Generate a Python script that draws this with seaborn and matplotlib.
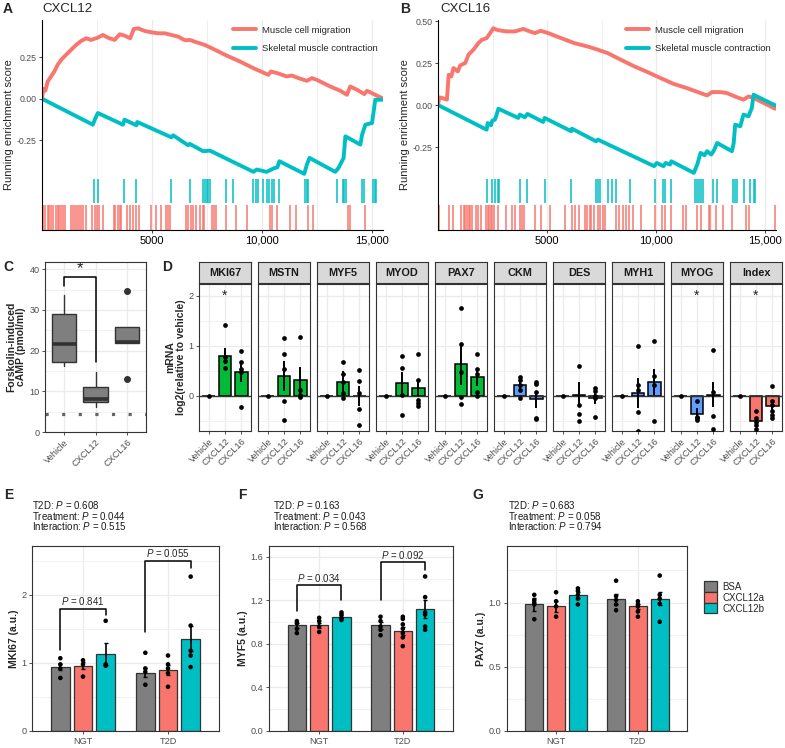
import matplotlib
matplotlib.use("Agg")
import matplotlib.pyplot as plt
from matplotlib.patches import Patch
import numpy as np
import pandas as pd
import seaborn as sns

# ---------------- data ----------------
# A: CXCL12 running enrichment score (gene rank, score)
a_mig_rank = [0, 60, 150, 260, 410, 560, 710, 870, 1090, 1320, 1550, 1780, 2010, 2230, 2540, 2770, 2990, 3300,
              3530, 3750, 4010, 4170, 4360, 4670, 4970, 5270, 5580, 5880, 6190, 6490, 6720, 7020, 7400, 7780,
              8390, 9000, 9610, 10290, 10400, 10700, 11130, 11350, 11660, 12040, 12270, 12490, 13100, 13560,
              13860, 14010, 14320, 14650, 14770, 15080, 15460]
a_mig_es = [0, 0.06, 0.048, 0.104, 0.134, 0.164, 0.204, 0.234, 0.264, 0.294, 0.324, 0.348, 0.364, 0.354, 0.368,
            0.384, 0.368, 0.354, 0.388, 0.38, 0.364, 0.42, 0.424, 0.408, 0.40, 0.394, 0.394, 0.384, 0.374, 0.352,
            0.354, 0.34, 0.324, 0.30, 0.26, 0.224, 0.184, 0.144, 0.164, 0.154, 0.134, 0.14, 0.124, 0.108, 0.124,
            0.114, 0.074, 0.048, 0.024, 0.074, 0.054, 0.028, 0.048, 0.028, 0.004]
a_con_rank = [0, 2310, 2430, 2540, 3680, 3750, 4290, 4330, 5880, 5960, 6640, 6720, 7330, 7630, 9610, 9760, 10210,
              10520, 10700, 10790, 11920, 12040, 12160, 13330, 13480, 13710, 13790, 14470, 14550, 14700, 15000,
              15150, 15460]
a_con_es = [0, -0.156, -0.116, -0.086, -0.156, -0.126, -0.16, -0.14, -0.232, -0.22, -0.28, -0.272, -0.316, -0.312,
            -0.44, -0.426, -0.44, -0.42, -0.412, -0.376, -0.452, -0.396, -0.356, -0.44, -0.416, -0.356, -0.226,
            -0.276, -0.216, -0.156, -0.146, -0.006, -0.006]
a_con_hits = [2360, 2540, 3710, 4290, 5850, 6720, 7330, 7400, 7480, 7550, 7630, 8350, 8660, 9610, 9730, 9830,
              10030, 10210, 10340, 10440, 10560, 10750, 11960, 12040, 12110, 13410, 13680, 13740, 13830, 14550,
              14620, 15050, 15120, 15200]
a_mig_hits = [60, 150, 260, 330, 410, 520, 640, 710, 790, 870, 970, 1060, 1320, 1400, 1510, 1580, 1700, 1780,
              1850, 2010, 2280, 2390, 2490, 2610, 2770, 3250, 3340, 3450, 3530, 3600, 3860, 4010, 4130, 4290, 4410,
              4940, 5170, 5430, 5650, 5730, 5810, 6540, 6640, 6790, 6870, 6990, 7170, 7300, 7370, 7710, 7810, 7930,
              8360, 8820, 9300, 10370, 10440, 10700, 11280, 11550, 12110, 12340, 13890, 13980, 14700]

# B: CXCL16
b_mig_rank = [0, 60, 180, 410, 490, 610, 710, 910, 1020, 1250, 1400, 1630, 1850, 2010, 2230, 2390, 2540, 2690,
              2920, 3150, 3530, 3910, 4210, 4440, 4710, 5050, 5650, 6260, 6870, 7330, 7780, 8390, 9000, 9610,
              10210, 10820, 11430, 12040, 12340, 12570, 12950, 13250, 13710, 14010, 14240, 14470, 15460]
b_mig_es = [0, 0.046, 0.042, 0.032, 0.18, 0.17, 0.22, 0.20, 0.236, 0.25, 0.30, 0.33, 0.368, 0.388, 0.398, 0.428,
            0.457, 0.448, 0.442, 0.438, 0.438, 0.453, 0.438, 0.428, 0.442, 0.428, 0.398, 0.368, 0.348, 0.329,
            0.309, 0.269, 0.23, 0.196, 0.16, 0.125, 0.10, 0.071, 0.057, 0.077, 0.077, 0.071, 0.046, 0.032, 0.051,
            0.042, -0.022]
b_con_rank = [0, 2230, 2280, 2430, 2490, 2610, 2690, 2770, 3680, 3750, 3980, 4100, 4820, 4890, 6110, 6140, 7250,
              7330, 9910, 10030, 10340, 10440, 10640, 10700, 11730, 11890, 12040, 12220, 12340, 12530, 12650,
              12800, 13480, 13560, 13630, 13860, 14010, 14240, 14390, 14470, 15460]
b_con_es = [0, -0.147, -0.107, -0.121, -0.093, -0.087, -0.057, -0.022, -0.077, -0.057, -0.073, -0.053, -0.101,
            -0.077, -0.156, -0.141, -0.216, -0.206, -0.364, -0.345, -0.364, -0.345, -0.354, -0.335, -0.404,
            -0.354, -0.285, -0.299, -0.275, -0.295, -0.271, -0.226, -0.275, -0.226, -0.117, -0.127, -0.057,
            -0.067, -0.018, 0.061, -0.002]
b_con_hits = [2230, 2490, 2610, 2740, 2800, 3750, 4100, 4890, 6080, 7250, 7330, 7450, 7780, 7980, 8160, 8820,
              9940, 10340, 10410, 10700, 11770, 11860, 11960, 12040, 12160, 12620, 12800, 13530, 13630, 13710,
              14050, 14290, 14470, 14550]
b_mig_hits = [60, 490, 710, 1060, 1170, 1250, 1320, 1400, 1470, 1550, 1730, 1850, 1980, 2190, 2270, 2340, 2420,
              2490, 2570, 2770, 3100, 3410, 3530, 3750, 3860, 3950, 4440, 4710, 5120, 5810, 6140, 6290, 6450, 6720,
              6840, 6950, 7020, 7140, 7330, 7430, 7550, 7660, 8160, 8310, 8470, 8620, 8770, 8920, 9330, 9940,
              10290, 10400, 10700, 11250, 11350, 11890, 12040, 12420, 12490, 12770, 13070, 13480, 14140, 14240,
              15460]

# C: forskolin-induced cAMP (box summary)
c_groups = ['Vehicle', 'CXCL12', 'CXCL16']
c_q1 = [17.2, 7.4, 21.9]
c_med = [21.6, 8.0, 22.2]
c_q3 = [29.0, 11.1, 25.8]
c_lo = [16.2, 6.2, 21.9]
c_hi = [33.7, 14.8, 25.8]
c_out = [[], [], [34.6, 13.0]]
c_basal = 4.4

# D: mRNA log2 fold change vs vehicle
d_genes = ['MKI67', 'MSTN', 'MYF5', 'MYOD', 'PAX7', 'CKM', 'DES', 'MYH1', 'MYOG', 'Index']
d_kind = ['prog', 'prog', 'prog', 'prog', 'prog', 'diff', 'diff', 'diff', 'diff', 'index']
d_cats = ['Vehicle', 'CXCL12', 'CXCL16']
d_mean12 = [0.80, 0.40, 0.28, 0.26, 0.63, 0.21, 0.02, 0.06, -0.37, -0.51]
d_sem12 = [0.16, 0.30, 0.21, 0.22, 0.41, 0.13, 0.25, 0.30, 0.12, 0.09]
d_mean16 = [0.48, 0.31, 0.00, 0.15, 0.37, -0.07, -0.04, 0.27, 0.02, -0.20]
d_sem16 = [0.20, 0.27, 0.20, 0.15, 0.17, 0.17, 0.12, 0.26, 0.25, 0.12]
d_pts12 = [[1.41, 0.78, 0.69, 0.55], [1.15, 0.84, 0.54, -0.10, -0.49], [0.68, 0.44, 0.27, 0.05, -0.05],
           [0.79, 0.56, 0.01, -0.39], [1.76, 1.03, 0.47, -0.02, -0.17], [0.38, 0.31, 0.21, 0.11, -0.05],
           [0.59, -0.19, -0.37, -0.51], [1.00, 0.21, 0.11, -0.33, -0.70], [-0.10, -0.42, -0.45, -0.49],
           [-0.30, -0.45, -0.52, -0.59, -0.67]]
d_pts16 = [[0.89, 0.68, 0.53, 0.47, -0.22], [1.18, 0.11, 0.01, -0.02], [0.51, 0.30, 0.05, -0.26, -0.58],
           [0.83, 0.32, -0.09, -0.15, -0.20], [0.83, 0.54, 0.43, 0.08, 0.00], [0.28, 0.23, 0.08, -0.44, -0.47],
           [0.16, 0.09, -0.01, -0.05, -0.43], [1.10, 0.40, 0.21, -0.50], [0.92, 0.08, -0.41, -0.67],
           [0.19, -0.10, -0.19, -0.31, -0.38, -0.45]]
d_star = ['MKI67', 'MYOG', 'Index']

# E-G: NGT / T2D myotubes
groups = ['NGT', 'T2D']
treatments = ['BSA', 'CXCL12a', 'CXCL12b']

e_mean = [[0.94, 0.96, 1.13], [0.86, 0.90, 1.36]]
e_sem = [[0.05, 0.05, 0.16], [0.07, 0.07, 0.19]]
e_pts = [[[1.07, 0.98, 0.92, 0.78], [1.04, 0.98, 0.80], [1.62, 0.98, 0.96]],
         [[1.15, 0.92, 0.87, 0.68], [1.11, 0.98, 0.92, 0.85, 0.65], [2.27, 1.55, 1.18, 1.11, 0.94]]]
e_stats = ['0.608', '0.044', '0.515']
e_pairs = [('0.841', 1.19, 1.80, 1.71), ('0.055', 1.45, 2.50, 2.39)]

f_mean = [[0.97, 0.97, 1.05], [0.97, 0.92, 1.12]]
f_sem = [[0.02, 0.02, 0.015], [0.03, 0.04, 0.08]]
f_pts = [[[1.01, 0.99, 0.94, 0.90], [1.04, 1.01, 0.96, 0.91], [1.09, 1.07, 1.04, 1.02]],
         [[1.05, 1.01, 0.96, 0.93, 0.88], [1.05, 1.03, 0.98, 0.94, 0.90, 0.86, 0.78],
          [1.42, 1.23, 1.09, 1.07, 0.96, 0.93]]]
f_stats = ['0.163', '0.043', '0.568']
f_pairs = [('0.034', 1.10, 1.34, 1.20), ('0.092', 1.20, 1.55, 1.48)]

g_mean = [[0.985, 0.97, 1.06], [1.03, 0.97, 1.03]]
g_sem = [[0.05, 0.04, 0.025], [0.04, 0.02, 0.05]]
g_pts = [[[1.06, 1.02, 1.0, 0.985, 0.87], [1.08, 1.01, 0.97, 0.89], [1.11, 1.09, 1.06, 1.03, 0.985]],
         [[1.17, 1.05, 1.02, 0.985, 0.94], [1.01, 0.985, 0.97, 0.93, 0.89], [1.21, 1.06, 1.03, 0.99, 0.85]]]
g_stats = ['0.683', '0.058', '0.794']

# ---------------- style ----------------
sns.set_theme(style="white")
plt.rcParams['font.family'] = ['Liberation Sans', 'DejaVu Sans']
plt.rcParams['mathtext.fontset'] = 'custom'
plt.rcParams['mathtext.rm'] = 'Liberation Sans'
plt.rcParams['mathtext.it'] = 'Liberation Sans:italic'
plt.rcParams['mathtext.bf'] = 'Liberation Sans:bold'

RED, TEAL, GREEN, BLUE, GREY = '#F8766D', '#00BFC4', '#00BA38', '#619CFF', '#7F7F7F'
GRID, TICK, EDGE = '#EBEBEB', '#4D4D4D', '#333333'
kind_col = {'prog': GREEN, 'diff': BLUE, 'index': RED}

W, H = 785, 748
fig = plt.figure(figsize=(W / 100, H / 100), dpi=100)


def box(l, t, r, b):
    return [l / W, 1 - b / H, (r - l) / W, (b - t) / H]


def ftext(x, y, s, **kw):
    fig.text(x / W, 1 - y / H, s, **kw)


def bw(ax, ymaj, ymin):
    for s in ax.spines.values():
        s.set_visible(True)
        s.set_color(EDGE)
        s.set_linewidth(0.8)
    ax.set_yticks(ymaj)
    ax.set_yticks(ymin, minor=True)
    ax.grid(which='major', color=GRID, lw=0.9)
    ax.grid(which='minor', axis='y', color=GRID, lw=0.5)
    ax.set_axisbelow(True)
    ax.tick_params(which='major', length=2.5, width=0.6, color=EDGE, labelsize=6.6,
                   labelcolor=TICK, left=True, bottom=True, pad=1.5)
    ax.tick_params(which='minor', length=0)
    ax.set_xlabel('')
    ax.set_ylabel('')


# ---------------- A / B ----------------
def gsea(rect, mig_r, mig_es, con_r, con_es, mig_hits, con_hits, ylim, yt, ytl):
    ax = fig.add_axes(rect)
    sns.lineplot(x=mig_r, y=mig_es, ax=ax, color=RED, lw=2.8, sort=False, estimator=None,
                 label='Muscle cell migration')
    sns.lineplot(x=con_r, y=con_es, ax=ax, color=TEAL, lw=2.8, sort=False, estimator=None,
                 label='Skeletal muscle contraction')
    tr = ax.get_xaxis_transform()
    ax.vlines(con_hits, 0.13, 0.245, transform=tr, color=TEAL, lw=1.1)
    ax.vlines(mig_hits, 0.0, 0.118, transform=tr, color=RED, lw=1.1)
    ax.set_xlim(0, 15500)
    ax.set_ylim(*ylim)
    ax.set_xticks([5000, 10000, 15000])
    ax.set_xticklabels(['5000', '10,000', '15,000'])
    ax.set_xticks([2500, 7500, 12500], minor=True)
    ax.set_yticks(yt)
    ax.set_yticklabels(ytl)
    ax.grid(axis='x', which='major', color=GRID, lw=0.9)
    ax.grid(axis='x', which='minor', color=GRID, lw=0.6)
    ax.set_axisbelow(True)
    for s in ['top', 'right']:
        ax.spines[s].set_visible(False)
    for s in ['left', 'bottom']:
        ax.spines[s].set_color('black')
        ax.spines[s].set_linewidth(0.8)
    ax.tick_params(axis='y', labelsize=6.3, labelcolor=TICK, length=2.5, width=0.6, left=True, pad=1.5)
    ax.tick_params(axis='x', labelsize=8, labelcolor='black', length=2.5, width=0.6, bottom=True, pad=1.5)
    ax.tick_params(which='minor', length=0)
    ax.set_ylabel('Running enrichment score', fontsize=8, labelpad=2)
    ax.set_xlabel('')
    ax.legend(loc='upper right', bbox_to_anchor=(1.0, 1.0), frameon=False, fontsize=6.8,
              handlelength=2.4, labelspacing=1.0, handletextpad=0.6, borderaxespad=0.2)
    return ax


gsea(box(42, 20, 383, 230), a_mig_rank, a_mig_es, a_con_rank, a_con_es, a_mig_hits, a_con_hits,
     (-0.79, 0.474), [-0.25, 0, 0.25], ['-0.25', '0.00', '0.25'])
gsea(box(438, 20, 776, 230), b_mig_rank, b_mig_es, b_con_rank, b_con_es, b_mig_hits, b_con_hits,
     (-0.744, 0.506), [-0.25, 0, 0.25, 0.5], ['-0.25', '0.00', '0.25', '0.50'])
ftext(3, 9, 'A', fontsize=10, fontweight='bold', va='center')
ftext(42, 9, 'CXCL12', fontsize=9.5, va='center')
ftext(400, 9, 'B', fontsize=10, fontweight='bold', va='center')
ftext(440, 9, 'CXCL16', fontsize=9.5, va='center')

# ---------------- C ----------------
ax = fig.add_axes(box(45, 262, 146, 432))
stats = [dict(med=m, q1=a, q3=b, whislo=lo, whishi=hi, fliers=fl)
         for m, a, b, lo, hi, fl in zip(c_med, c_q1, c_q3, c_lo, c_hi, c_out)]
ax.bxp(stats, positions=[0, 1, 2], widths=0.78, patch_artist=True, showcaps=False,
       boxprops=dict(facecolor=GREY, edgecolor=EDGE, lw=1.0),
       medianprops=dict(color=EDGE, lw=2.6, solid_capstyle='butt'),
       whiskerprops=dict(color=EDGE, lw=1.0),
       flierprops=dict(marker='o', markerfacecolor=EDGE, markeredgecolor=EDGE, markersize=4))
ax.axhline(c_basal, color='#666666', lw=2.3, ls=(0, (1, 4.2)), dash_capstyle='butt', zorder=1)
ax.plot([0, 0, 1, 1], [35.9, 38.1, 38.1, 17.2], color='black', lw=1.1)
ax.text(0.5, 38.3, '*', ha='center', va='bottom', fontsize=12)
bw(ax, [0, 10, 20, 30, 40], [5, 15, 25, 35])
ax.set_xticks([0, 1, 2])
ax.set_xticklabels(c_groups, rotation=45, ha='right', rotation_mode='anchor')
ax.set_yticklabels(['0', '10', '20', '30', '40'])
ax.set_xlim(-0.6, 2.6)
ax.set_ylim(0, 41.8)
ax.set_ylabel('Forskolin-induced\ncAMP (pmol/ml)', fontsize=7.5, fontweight='bold', labelpad=2,
              linespacing=1.0)
ftext(3, 267, 'C', fontsize=10, fontweight='bold', va='center')

# ---------------- D ----------------
ftext(162, 267, 'D', fontsize=10, fontweight='bold', va='center')
for i, gene in enumerate(d_genes):
    l = 199 + i * 59
    ax = fig.add_axes(box(l, 284, l + 52, 431))
    col = kind_col[d_kind[i]]
    means = [0.0, d_mean12[i], d_mean16[i]]
    sns.barplot(x=d_cats, y=means, order=d_cats, color=col, saturation=1, width=0.78, edgecolor='black',
                linewidth=1.1, errorbar=None, ax=ax, zorder=2)
    ax.axhline(0, color=EDGE, lw=1.0, zorder=2.5)
    ax.errorbar([1, 2], [d_mean12[i], d_mean16[i]], yerr=[d_sem12[i], d_sem16[i]], fmt='none',
                ecolor='black', elinewidth=1.4, capsize=0, zorder=3)
    xs = ['Vehicle'] + ['CXCL12'] * len(d_pts12[i]) + ['CXCL16'] * len(d_pts16[i])
    ys = [0.0] + d_pts12[i] + d_pts16[i]
    sns.stripplot(x=xs, y=ys, order=d_cats, jitter=False, color='black', size=3.4, ax=ax, zorder=4)
    if gene in d_star:
        ax.text(1, 1.86, '*', ha='center', va='bottom', fontsize=10)
    bw(ax, [0, 1, 2], [-0.5, 0.5, 1.5])
    ax.set_xticks([0, 1, 2])
    ax.set_xticklabels(d_cats, rotation=45, ha='right', rotation_mode='anchor')
    ax.set_xlim(-0.6, 2.6)
    ax.set_ylim(-0.71, 2.23)
    if i == 0:
        ax.set_yticklabels(['0', '1', '2'])
        ax.set_ylabel('mRNA\nlog2(relative to vehicle)', fontsize=7.5, fontweight='bold',
                      labelpad=2, linespacing=1.0)
    else:
        ax.tick_params(axis='y', left=False, labelleft=False)
    sax = fig.add_axes(box(l, 262, l + 52, 283))
    sax.set_facecolor('#D9D9D9')
    sax.set_xticks([])
    sax.set_yticks([])
    for s in sax.spines.values():
        s.set_visible(True)
        s.set_color(EDGE)
        s.set_linewidth(0.8)
    sax.text(0.5, 0.5, gene, ha='center', va='center', fontsize=7.8, fontweight='bold',
             transform=sax.transAxes, color='#1A1A1A')


# ---------------- E / F / G ----------------
def treat_panel(rect, mean, sem, pts, ylim, ymaj, ymin, yticklab, ylabel, pairs, legend=False):
    ax = fig.add_axes(rect)
    bars = pd.DataFrame({'group': np.repeat(groups, 3), 'treatment': treatments * 2,
                         'value': np.ravel(mean)})
    sns.barplot(data=bars, x='group', y='value', hue='treatment', order=groups, hue_order=treatments,
                palette=[GREY, RED, TEAL], saturation=1, width=0.8, gap=0.17, edgecolor=EDGE,
                linewidth=0.9, errorbar=None, legend=False, ax=ax, zorder=2)
    rows = []
    for gi, g in enumerate(groups):
        for ti, t in enumerate(treatments):
            for v in pts[gi][ti]:
                rows.append((g, t, v))
    dots = pd.DataFrame(rows, columns=['group', 'treatment', 'value'])
    sns.stripplot(data=dots, x='group', y='value', hue='treatment', order=groups, hue_order=treatments,
                  palette=['black'] * 3, dodge=True, jitter=False, size=3.3, legend=False, ax=ax, zorder=4)
    off = 0.8 / 3
    ex = [gi + (ti - 1) * off for gi in range(2) for ti in range(3)]
    ax.errorbar(ex, np.ravel(mean), yerr=np.ravel(sem), fmt='none', ecolor='black', elinewidth=1.2,
                capsize=1.6, capthick=1.0, zorder=5)
    for gi, (p, yl, yt, yr) in enumerate(pairs):
        ax.plot([gi - off, gi - off, gi + off, gi + off], [yl, yt, yt, yr], color='black', lw=1.1)
        ax.text(gi, yt + (ylim[1] * 0.008), r'$\mathit{P}$ = ' + p, ha='center', va='bottom', fontsize=7)
    bw(ax, ymaj, ymin)
    ax.set_yticklabels(yticklab)
    ax.set_xlim(-0.6, 1.6)
    ax.set_ylim(*ylim)
    ax.set_ylabel(ylabel, fontsize=7.5, fontweight='bold', labelpad=2)
    if legend:
        handles = [Patch(facecolor=c, edgecolor=EDGE, lw=0.9) for c in [GREY, RED, TEAL]]
        ax.legend(handles, treatments, loc='upper left', bbox_to_anchor=(1.075, 0.83), frameon=False,
                  fontsize=7, handlelength=1.25, handleheight=1.25, labelspacing=0.05,
                  handletextpad=0.6, borderaxespad=0)
    return ax


treat_panel(box(32, 546, 219, 731), e_mean, e_sem, e_pts, (0, 2.72), [0, 1, 2], [0.5, 1.5, 2.5],
            ['0', '1', '2'], 'MKI67 (a.u.)', e_pairs)
treat_panel(box(269, 546, 453, 731), f_mean, f_sem, f_pts, (0, 1.70), [0, 0.4, 0.8, 1.2, 1.6],
            [0.2, 0.6, 1.0, 1.4], ['0.0', '0.4', '0.8', '1.2', '1.6'], 'MYF5 (a.u.)', f_pairs)
treat_panel(box(507, 546, 687, 731), g_mean, g_sem, g_pts, (0, 1.44), [0, 0.5, 1.0],
            [0.25, 0.75, 1.25], ['0.0', '0.5', '1.0'], 'PAX7 (a.u.)', [], legend=True)

for x, st in [(32, e_stats), (273, f_stats), (508, g_stats)]:
    ftext(x, 505, r'T2D: $\mathit{P}$ = ' + st[0], fontsize=7, va='center', color='#1A1A1A')
    ftext(x, 515.5, r'Treatment: $\mathit{P}$ = ' + st[1], fontsize=7, va='center', color='#1A1A1A')
    ftext(x, 526, r'Interaction: $\mathit{P}$ = ' + st[2], fontsize=7, va='center', color='#1A1A1A')

ftext(4, 495, 'E', fontsize=10, fontweight='bold', va='center')
ftext(238, 495, 'F', fontsize=10, fontweight='bold', va='center')
ftext(472, 495, 'G', fontsize=10, fontweight='bold', va='center')

fig.savefig('out.png', dpi=100)
